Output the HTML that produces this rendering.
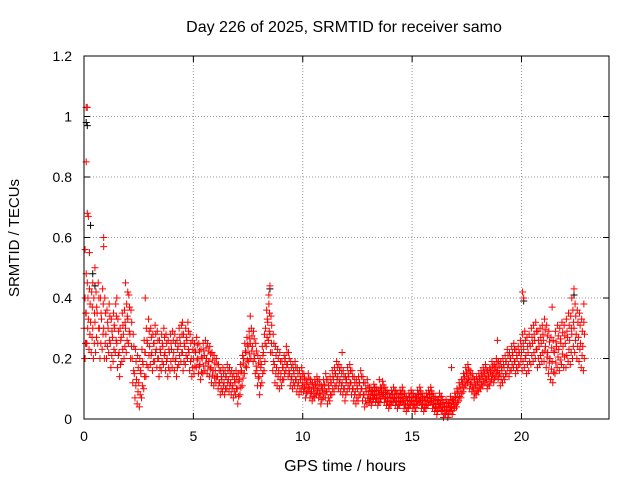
<!DOCTYPE html>
<html><head><meta charset="utf-8"><style>
html,body{margin:0;padding:0;background:#fff}
svg{display:block;font-family:"Liberation Sans",sans-serif}
</style></head><body>
<svg id="chart" width="640" height="480">
<text x="344" y="32" text-anchor="middle" font-size="16">Day 226 of 2025, SRMTID for receiver samo</text>
<text x="345" y="471" text-anchor="middle" font-size="16">GPS time / hours</text>
<text x="19" y="238" text-anchor="middle" font-size="15" transform="rotate(-90 19 238)">SRMTID / TECUs</text>
<g id="grid"></g><g id="ticks"></g><g id="marks"></g>
<rect x="84" y="56" width="525" height="363" fill="none" stroke="#000" stroke-width="1"/>
</svg>
<script>
const xTicks=[0,5,10,15,20];
const yTicks=[0,0.2,0.4,0.6,0.8,1,1.2];
const yTickLabels=["0","0.2","0.4","0.6","0.8","1","1.2"];
const midVals=[
0.30,0.35,0.33,0.32,0.30,0.32,0.35,0.30,0.33,0.30,
0.28,0.30,0.25,0.27,0.30,0.25,0.22,0.27,0.28,0.30,
0.33,0.28,0.20,0.15,0.13,0.12,0.15,0.18,0.22,0.25,
0.24,0.22,0.25,0.23,0.20,0.22,0.24,0.22,0.20,0.22,
0.23,0.22,0.20,0.24,0.25,0.22,0.24,0.26,0.22,0.20,
0.20,0.22,0.20,0.18,0.20,0.21,0.20,0.19,0.17,0.16,
0.16,0.14,0.12,0.13,0.12,0.14,0.13,0.12,0.11,0.12,
0.10,0.13,0.16,0.20,0.22,0.24,0.25,0.24,0.20,0.16,
0.14,0.18,0.22,0.30,0.32,0.28,0.22,0.18,0.17,0.16,
0.15,0.17,0.20,0.18,0.15,0.14,0.15,0.13,0.12,0.13,
0.12,0.10,0.12,0.10,0.09,0.10,0.11,0.10,0.08,0.10,
0.11,0.09,0.10,0.12,0.13,0.15,0.14,0.13,0.12,0.10,
0.13,0.14,0.12,0.10,0.09,0.10,0.12,0.10,0.08,0.09,
0.08,0.07,0.09,0.08,0.07,0.08,0.10,0.08,0.07,0.06,
0.07,0.08,0.07,0.06,0.07,0.08,0.06,0.05,0.06,0.07,
0.06,0.05,0.07,0.08,0.06,0.05,0.06,0.07,0.08,0.06,
0.05,0.04,0.06,0.05,0.03,0.04,0.03,0.05,0.04,0.06,
0.07,0.09,0.10,0.12,0.14,0.15,0.13,0.12,0.10,0.11,
0.12,0.13,0.14,0.15,0.13,0.14,0.16,0.15,0.17,0.16,
0.15,0.16,0.17,0.19,0.18,0.20,0.21,0.19,0.20,0.22,
0.22,0.23,0.21,0.22,0.24,0.25,0.26,0.23,0.24,0.25,
0.26,0.24,0.22,0.20,0.19,0.22,0.24,0.23,0.25,0.24,
0.25,0.27,0.26,0.28,0.30,0.28,0.27,0.25,0.24];
const hourSpread=[0.1,0.08,0.08,0.06,0.06,0.05,0.04,0.05,0.06,0.04,0.03,0.04,0.04,0.025,0.025,0.025,0.025,0.03,0.03,0.04,0.06,0.07,0.08];
const spikeTimes=[0.1,0.15,0.1,0.15,0.2,0.05,0.25,0.1,0.4,0.9,0.9,0.5,1.9,2.0,1.5,8.5,8.45,20.05,20.1,22.4,22.3,2.8,4.5,7.6,11.8,13.5,16.8,18.9,21.4,22.85,0.05,0.1];
const spikeVals=[1.03,1.03,0.85,0.68,0.67,0.56,0.55,0.48,0.45,0.6,0.57,0.5,0.45,0.42,0.4,0.44,0.41,0.42,0.4,0.43,0.4,0.4,0.32,0.34,0.22,0.13,0.17,0.26,0.37,0.38,0.2,0.25];
const blackTimes=[0.1,0.15,0.3,0.4,0.5,8.5,20.1,22.4];
const blackVals=[0.98,0.97,0.64,0.48,0.44,0.43,0.39,0.41];

const NS="http://www.w3.org/2000/svg";
const X=v=>84+v*525/24, Y=v=>419-v*363/1.2;
const grid=document.getElementById('grid'),ticks=document.getElementById('ticks'),marks=document.getElementById('marks');
function mk(tag,attrs,parent){const e=document.createElementNS(NS,tag);for(const k in attrs)e.setAttribute(k,attrs[k]);parent.appendChild(e);return e;}
xTicks.forEach((t)=>{
 const x=X(t);
 if(t>0){const g=mk('line',{x1:x,x2:x,y1:56,y2:419,stroke:'#999','stroke-dasharray':'1,2'},grid);
 
 }
 mk('line',{x1:x,x2:x,y1:419,y2:413,stroke:'#000'},ticks);
 mk('line',{x1:x,x2:x,y1:56,y2:62,stroke:'#000'},ticks);
 const l=mk('text',{x:x,y:441,'text-anchor':'middle','font-size':'14'},ticks);l.textContent=t;
 
 
});
yTicks.forEach((t,i)=>{
 const y=Y(t);
 if(t>0&&t<1.2){const g=mk('line',{x1:84,x2:609,y1:y,y2:y,stroke:'#999','stroke-dasharray':'1,2'},grid);
 
 }
 mk('line',{x1:84,x2:90,y1:y,y2:y,stroke:'#000'},ticks);
 mk('line',{x1:609,x2:603,y1:y,y2:y,stroke:'#000'},ticks);
 const l=mk('text',{x:72,y:y+5,'text-anchor':'end','font-size':'14'},ticks);l.textContent=yTickLabels[i];
 
 
});
function plus(t,v,c,name){
 const x=X(t),y=Y(v);
 const p=mk('path',{d:`M${x-3.5},${y}h7M${x},${y-3.5}v7`,stroke:c,'stroke-width':'1',fill:'none'},marks);
 
 
}
blackTimes.forEach((t,i)=>plus(t,blackVals[i],'#000','black-point'));
midVals.forEach((v,i)=>{
 const t=i*0.1, s=hourSpread[Math.floor(t)];
 plus(t,v,'#f00','srmtid-point');
 plus(t+0.03,Math.max(0.005,v-s),'#f00','srmtid-point');
 plus(t+0.05,v+s,'#f00','srmtid-point');
 plus(t+0.07,Math.max(0.005,v-s/2),'#f00','srmtid-point');
 plus(t+0.08,v+s/2,'#f00','srmtid-point');
});
spikeTimes.forEach((t,i)=>plus(t,spikeVals[i],'#f00','srmtid-spike'));
</script>
</body></html>
